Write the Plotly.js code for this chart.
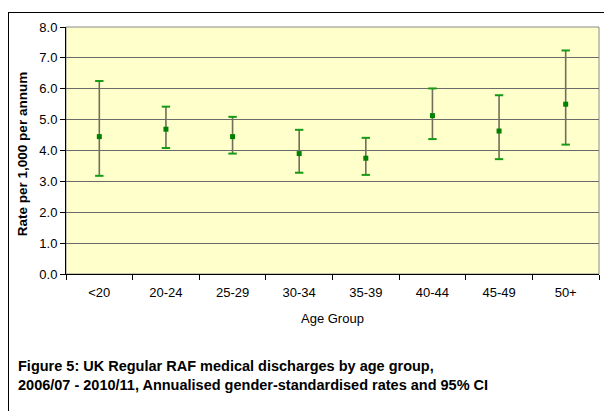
<!DOCTYPE html>
<html>
<head>
<meta charset="utf-8">
<script src="https://cdn.plot.ly/plotly-3.0.1.min.js"></script>
<style>
  html, body { margin: 0; padding: 0; width: 604px; height: 411px; overflow: hidden; background: #fff; }
  #frame { position: absolute; left: 8px; top: 12px; width: 800px; height: 600px; border: 1px solid #000; box-sizing: border-box; }
  #chart { position: absolute; left: 0; top: 0; width: 604px; height: 411px; }
</style>
</head>
<body>
<div id="frame"></div>
<div id="chart"></div>
<script>
// Data
const ageGroups = ['<20', '20-24', '25-29', '30-34', '35-39', '40-44', '45-49', '50+'];
const rates     = [4.45, 4.69, 4.45, 3.90, 3.75, 5.13, 4.63, 5.50];
const ciLower   = [3.18, 4.08, 3.90, 3.28, 3.21, 4.37, 3.72, 4.19];
const ciUpper   = [6.25, 5.42, 5.09, 4.67, 4.41, 6.01, 5.79, 7.24];
const yTickVals = [0, 1, 2, 3, 4, 5, 6, 7, 8];

const errPlus  = ciUpper.map((u, i) => u - rates[i]);
const errMinus = rates.map((r, i) => r - ciLower[i]);

const font = 'Liberation Sans, Arial, sans-serif';
const capStyle = { symbol: 'line-ew', size: 6, color: '#159a15', line: { color: '#159a15', width: 2 } };

const traces = [
  { // grey stems of the confidence intervals
    type: 'scatter', mode: 'markers', x: ageGroups, y: rates,
    marker: { size: 1, color: 'rgba(0,0,0,0)' },
    error_y: { type: 'data', symmetric: false, array: errPlus, arrayminus: errMinus,
               color: '#6f6f5a', thickness: 1.6, width: 0 },
    hoverinfo: 'skip', showlegend: false
  },
  { // upper caps
    type: 'scatter', mode: 'markers', x: ageGroups, y: ciUpper,
    marker: capStyle, hoverinfo: 'skip', showlegend: false
  },
  { // lower caps
    type: 'scatter', mode: 'markers', x: ageGroups, y: ciLower,
    marker: capStyle, hoverinfo: 'skip', showlegend: false
  },
  { // point estimates
    type: 'scatter', mode: 'markers', x: ageGroups, y: rates,
    marker: { symbol: 'square', size: 5, color: '#008000' },
    showlegend: false
  }
];

const layout = {
  width: 604, height: 411,
  margin: { l: 66, r: 5, t: 27, b: 137 },
  paper_bgcolor: 'rgba(0,0,0,0)',
  plot_bgcolor: '#FFFFCC',
  font: { family: font, size: 13, color: '#000' },
  showlegend: false,
  xaxis: {
    type: 'category',
    tickson: 'boundaries',
    ticks: 'outside', ticklen: 5, tickcolor: '#000', tickwidth: 1,
    showline: true, linecolor: '#000', linewidth: 1,
    showgrid: false, zeroline: false,
    ticklabelstandoff: 6,
    tickfont: { family: font, size: 13, color: '#000' },
    range: [-0.5, 7.5]
  },
  yaxis: {
    range: [0, 8], tickvals: yTickVals, tickformat: '.1f',
    ticks: 'outside', ticklen: 5, tickcolor: '#000', tickwidth: 1,
    showline: true, linecolor: '#000', linewidth: 1,
    showgrid: true, gridcolor: '#6a6a6a', gridwidth: 1,
    zeroline: false,
    tickfont: { family: font, size: 13, color: '#000' }
  },
  shapes: [
    { type: 'rect', xref: 'paper', yref: 'paper', x0: 0, x1: 1, y0: 0, y1: 1,
      line: { color: '#8a8a8a', width: 1 }, layer: 'below' }
  ],
  annotations: [
    { text: 'Rate per 1,000 per annum', xref: 'paper', yref: 'paper', x: -0.0826, y: 0.485,
      textangle: -90, showarrow: false, xanchor: 'center', yanchor: 'middle',
      font: { family: font, size: 13.5, color: '#000', weight: 'bold' } },
    { text: 'Age Group', xref: 'paper', yref: 'paper', x: 0.5, y: -0.18,
      showarrow: false, xanchor: 'center', yanchor: 'middle',
      font: { family: font, size: 13, color: '#000' } },
    { text: 'Figure 5: UK Regular RAF medical discharges by age group,<br>2006/07 - 2010/11, Annualised gender-standardised rates and 95% CI',
      xref: 'paper', yref: 'paper', x: -0.0938, y: -0.33, align: 'left',
      showarrow: false, xanchor: 'left', yanchor: 'top',
      font: { family: font, size: 14.5, color: '#000', weight: 'bold' } }
  ]
};

Plotly.newPlot('chart', traces, layout, { displayModeBar: false, staticPlot: true });
</script>
</body>
</html>
